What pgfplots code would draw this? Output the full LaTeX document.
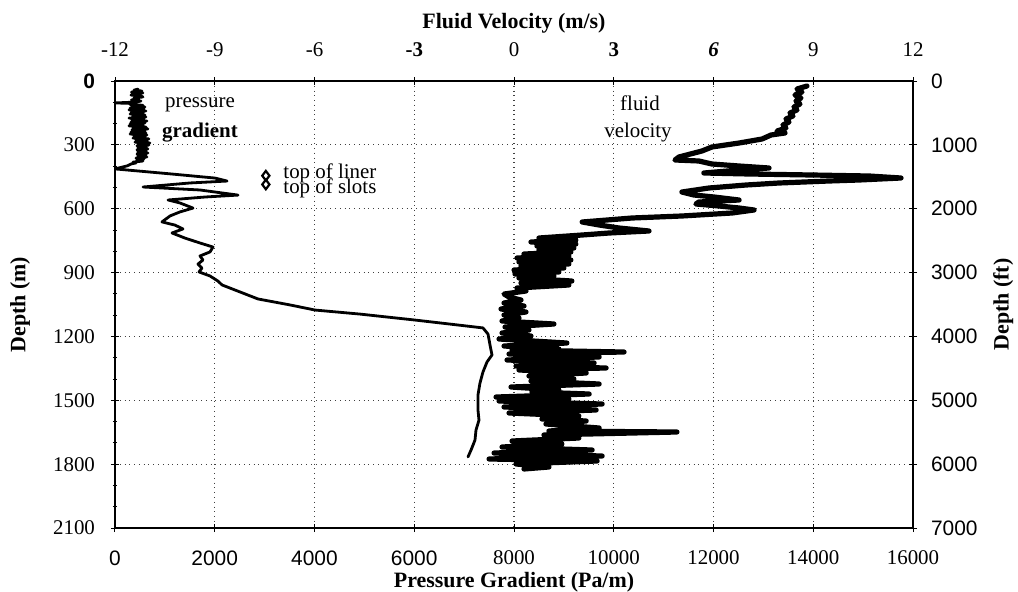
\documentclass[border=0pt]{standalone}
\usepackage{fontspec}
\setmainfont{Liberation Serif}
\newfontfamily\arial{Liberation Sans}
\usepackage{pgfplots}
\usepackage{pgfplotstable}
\pgfplotsset{compat=1.18}

% pressure gradient log: gradient (Pa/m) against depth (m)
\pgfplotstableread{
grad depth
461 38
380 43
540 47
330 52
560 56
400 61
320 66
520 70
560 75
380 80
470 85
330 89
520 94
420 99
0 103
420 106
300 110
560 114
340 118
600 122
300 127
580 131
280 136
620 141
330 146
560 150
300 155
600 160
360 164
620 169
280 174
580 178
340 183
640 188
320 193
600 197
300 202
560 207
280 211
620 216
360 221
660 225
340 230
600 235
320 240
620 244
300 249
640 254
380 258
600 263
360 268
680 272
420 277
640 282
400 287
700 291
460 296
680 301
440 305
620 310
460 315
660 319
440 324
620 329
460 334
660 338
440 343
620 348
460 352
640 357
420 362
580 366
440 371
560 376
360 381
420 385
320 390
280 395
240 399
120 406
0 413
1143 437
2005 456
2246 470
1504 479
561 498
1704 512
2466 536
1805 545
1063 559
1303 573
1564 597
1303 615
1103 634
942 662
1203 677
1363 695
1143 714
1404 738
1704 761
1965 780
1905 803
1704 822
1764 841
1664 860
1744 879
1684 897
1905 916
2065 940
2145 958
2506 991
2867 1024
3509 1052
4010 1076
4912 1095
6015 1123
6717 1142
7378 1160
7479 1189
7519 1240
7559 1287
7459 1320
7378 1367
7318 1419
7278 1475
7278 1546
7298 1593
7238 1640
7218 1687
7138 1734
7078 1766
}\gradtable

% fluid velocity log: velocity (m/s) against depth (m)
\pgfplotstableread{
vel depth
8.81 23.5
8.51 37.6
8.66 51.7
8.45 65.8
8.63 79.9
8.48 94.0
8.60 108.1
8.42 122.1
8.51 136.2
8.30 150.3
8.39 164.4
8.18 178.5
8.27 192.6
8.09 206.7
8.18 220.8
7.91 234.9
8.15 244.3
7.73 253.7
7.46 272.5
6.77 291.3
5.95 310.1
5.65 328.9
4.96 357.0
4.84 371.1
5.56 375.8
5.95 389.9
6.77 399.3
7.67 408.7
6.77 418.1
5.71 432.2
7.07 436.9
8.96 441.6
10.68 446.3
11.64 455.7
10.38 465.1
9.47 469.8
7.97 479.2
6.98 488.6
5.86 502.7
5.05 521.5
5.41 535.6
6.02 545.0
6.77 559.1
5.56 568.5
5.47 577.9
6.17 587.3
6.77 596.6
7.22 606.0
6.56 620.1
5.05 634.2
3.55 643.6
2.05 662.4
2.56 676.5
3.16 690.6
4.06 704.7
2.86 714.1
2.05 723.5
0.75 737.6
1.86 747.0
0.51 756.4
1.86 765.8
0.69 775.2
1.80 784.6
0.75 794.0
1.71 803.4
0.30 812.8
1.65 822.2
0.09 831.5
1.71 840.9
0.15 850.3
1.65 859.7
0.21 869.1
1.50 878.5
0.00 887.9
1.35 897.3
0.03 906.7
1.20 916.1
0.15 925.5
1.74 939.6
0.21 949.0
1.65 958.4
0.09 972.5
0.36 986.6
-0.30 1000.7
-0.15 1014.8
0.21 1028.9
-0.30 1043.0
0.30 1057.1
-0.39 1071.1
0.36 1085.2
-0.30 1099.3
0.15 1113.4
-0.36 1127.5
1.20 1141.6
-0.27 1155.7
0.45 1169.8
-0.36 1183.9
0.51 1198.0
-0.45 1212.1
1.59 1230.9
-0.30 1245.0
1.35 1259.1
-0.06 1263.8
3.31 1273.2
-0.15 1282.6
2.56 1296.6
-0.21 1310.7
2.41 1324.8
0.06 1338.9
2.77 1348.3
0.15 1357.7
2.17 1371.8
0.45 1385.9
1.80 1400.0
0.51 1409.4
2.56 1423.5
-0.09 1437.6
1.35 1451.7
0.54 1461.1
2.26 1470.5
-0.54 1484.6
1.65 1494.0
-0.45 1503.4
2.65 1517.5
-0.30 1531.5
2.47 1545.6
-0.15 1559.7
1.95 1573.8
0.84 1587.9
2.17 1597.3
0.96 1611.4
2.56 1630.2
1.05 1644.3
4.90 1649.0
0.90 1663.1
1.95 1677.2
-0.06 1691.3
1.44 1705.4
-0.36 1719.5
2.35 1733.6
-0.60 1747.7
2.65 1761.8
-0.75 1775.8
2.50 1785.2
0.06 1799.3
1.05 1813.4
0.30 1822.8
}\veltable

\begin{document}
\begin{tikzpicture}[font=\fontsize{10.5}{12}\selectfont]
\pgfplotsset{
  welllog/.style={
    scale only axis, width=399bp, height=223.5bp,
    ymin=0, ymax=2100, y dir=reverse,
    ytick={0,300,...,2100},
    tick align=center,
    major tick length=4bp, minor tick length=2bp,
    tick style={black, line width=0.5pt},
    axis line style={black, line width=0.6pt},
    xticklabel style={font=\fontsize{10.5}{12}\selectfont},
    yticklabel style={font=\fontsize{10.5}{12}\selectfont},
  },
}
% pressure gradient: bottom and left axes
\begin{axis}[welllog,
  xmin=0, xmax=16000,
  xtick={0,2000,...,16000},
  xticklabels={{\arial 0},{\arial 2000},{\arial 4000},{\arial 6000},8000,10000,12000,14000,16000},
  yticklabels={{\arial\bfseries 0},300,600,900,1200,1500,1800,2100},
  minor y tick num=2,
  xtick pos=left, ytick pos=left,
  grid=major,
  grid style={black!75, dotted, line width=0.6pt},
  xticklabel style={yshift=-6bp},
  yticklabel style={xshift=-4.5bp},
  every axis x label/.style={at={(axis description cs:0.5,-0.122)}, anchor=center, font=\fontsize{11}{12}\selectfont\bfseries},
  every axis y label/.style={at={(axis description cs:-0.119,0.5)}, anchor=center, rotate=90, font=\fontsize{11}{12}\selectfont\bfseries},
  xlabel={Pressure Gradient (Pa/m)},
  ylabel={Depth (m)},
  legend style={at={(axis description cs:0.184,0.820)}, anchor=north west,
    draw=none, fill=none, inner sep=0pt, row sep=-3.5bp,
    font=\fontsize{10.5}{12}\selectfont,
    nodes={inner xsep=2bp, inner ysep=1bp}},
  legend cell align=left,
]
\addplot[black, line width=1.4bp, line join=round, line cap=round, forget plot]
  table[x=grad, y=depth]{\gradtable};
\addlegendimage{only marks, mark=diamond, mark size=2.4bp,
  mark options={black, line width=1.1bp, fill=white, yshift=-1.5bp}}
\addlegendentry{\hspace{5bp}top of liner}
\addlegendimage{only marks, mark=diamond, mark size=2.4bp,
  mark options={black, line width=1.1bp, fill=white, yshift=1.5bp}}
\addlegendentry{\hspace{5bp}top of slots}
\node at (axis cs:1704,113) {pressure};
\node at (axis cs:1704,240) {\textbf{gradient}};
\node at (axis cs:10526,103) {fluid};
\node at (axis cs:10486,244) {velocity};
\end{axis}
% fluid velocity: top and right axes
\begin{axis}[welllog,
  xmin=-12, xmax=12,
  xtick={-12,-9,...,12},
  xticklabels={-12,-9,-6,\textbf{-3},0,\textbf{3},\textbf{\textit{6}},9,12},
  yticklabels={{\arial 0},{\arial 1000},{\arial 2000},{\arial 3000},{\arial 4000},{\arial 5000},{\arial 6000},{\arial 7000}},
  axis x line*=top, axis y line*=right,
  xticklabel style={yshift=6.5bp},
  yticklabel style={xshift=3.5bp},
  every axis x label/.style={at={(axis description cs:0.5,1.13)}, anchor=center, font=\fontsize{11}{12}\selectfont\bfseries},
  every axis y label/.style={at={(axis description cs:1.113,0.5)}, anchor=center, rotate=90, font=\fontsize{11}{12}\selectfont\bfseries},
  xlabel={Fluid Velocity (m/s)},
  ylabel={Depth (ft)},
]
\addplot[black, line width=2.6bp, line join=round, line cap=round]
  table[x=vel, y=depth]{\veltable};
\end{axis}
\pgfresetboundingbox
\path ([shift={(-57.5bp,-32bp)}]current axis.south west)
  rectangle ([shift={(52.5bp,40.5bp)}]current axis.north east);
\end{tikzpicture}
\end{document}
